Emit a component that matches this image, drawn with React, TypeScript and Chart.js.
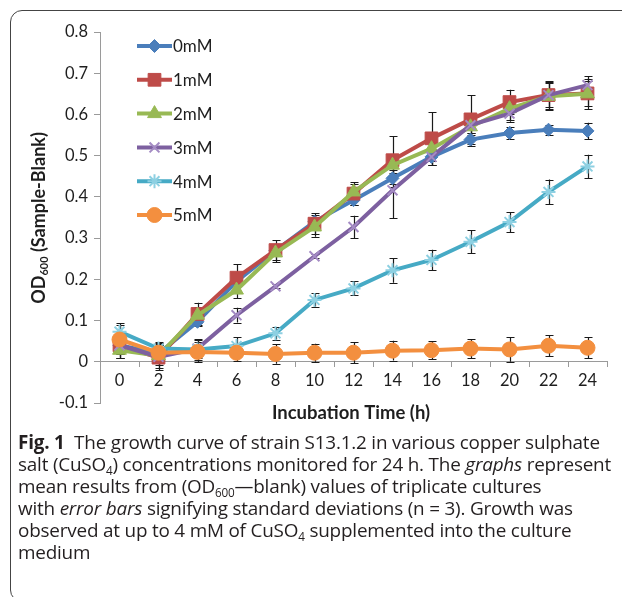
import React, { useEffect, useRef } from 'react';
import { Chart, registerables } from 'chart.js';
import { drawPoint } from 'chart.js/helpers';

Chart.register(...registerables);

const hours = ['0', '2', '4', '6', '8', '10', '12', '14', '16', '18', '20', '22', '24'];

const seriesNames = ['0mM', '1mM', '2mM', '3mM', '4mM', '5mM'];

const od0mM = [0.04, 0.02, 0.097, 0.195, 0.27, 0.34, 0.392, 0.445, 0.497, 0.539, 0.555, 0.563, 0.56];
const od1mM = [0.04, 0.01, 0.116, 0.204, 0.271, 0.335, 0.408, 0.489, 0.542, 0.588, 0.63, 0.647, 0.651];
const od2mM = [0.028, 0.015, 0.113, 0.174, 0.264, 0.327, 0.412, 0.477, 0.517, 0.57, 0.614, 0.644, 0.65];
const od3mM = [0.04, 0.012, 0.032, 0.113, 0.183, 0.256, 0.327, 0.416, 0.497, 0.574, 0.602, 0.647, 0.671];
const od4mM = [0.073, 0.032, 0.03, 0.038, 0.069, 0.15, 0.178, 0.222, 0.247, 0.291, 0.339, 0.412, 0.474];
const od5mM = [0.054, 0.022, 0.024, 0.022, 0.019, 0.022, 0.022, 0.027, 0.028, 0.032, 0.03, 0.039, 0.034];

const sd0mM = [0.02, 0.02, 0.01, 0.01, 0.012, 0.015, 0.012, 0.02, 0.02, 0.015, 0.015, 0.012, 0.02];
const sd1mM = [0.03, 0.03, 0.027, 0.032, 0.024, 0.025, 0.028, 0.058, 0.064, 0.059, 0.03, 0.034, 0.03];
const sd2mM = [0.02, 0.03, 0.02, 0.02, 0.022, 0.024, 0.02, 0.02, 0.03, 0.02, 0.028, 0.034, 0.037];
const sd3mM = [0.03, 0.02, 0.022, 0.018, 0.005, 0.005, 0.027, 0.068, 0.02, 0.02, 0.02, 0.03, 0.022];
const sd4mM = [0.02, 0.015, 0.025, 0.022, 0.015, 0.016, 0.017, 0.03, 0.025, 0.028, 0.024, 0.03, 0.028];
const sd5mM = [0.035, 0.02, 0.025, 0.02, 0.024, 0.022, 0.026, 0.024, 0.022, 0.023, 0.03, 0.026, 0.026];

const lineColors = ['#4A7EBB', '#BE4B48', '#98B954', '#7D60A0', '#46AAC5', '#F38F3F'];
const markerBorders = ['#4A7EBB', '#BE4B48', '#98B954', '#A48BC4', '#8DD0E2', '#F38F3F'];
const markerStyles = ['rectRot', 'rect', 'triangle', 'crossRot', 'star', 'circle'];
const markerRadii = [6.5, 9, 8, 7, 7, 7.5];

const allValues = [od0mM, od1mM, od2mM, od3mM, od4mM, od5mM];
const allErrors = [sd0mM, sd1mM, sd2mM, sd3mM, sd4mM, sd5mM];

const FONT = 'Lato, "Open Sans", sans-serif';

const errorBarPlugin = {
  id: 'errorBars',
  beforeDatasetsDraw(chart: any) {
    const ctx = chart.ctx;
    const y = chart.scales.y;
    ctx.save();
    ctx.strokeStyle = '#1a1a1a';
    ctx.lineWidth = 1.2;
    chart.data.datasets.forEach((ds: any, di: number) => {
      const meta = chart.getDatasetMeta(di);
      const errs = allErrors[di];
      meta.data.forEach((pt: any, i: number) => {
        const v = ds.data[i];
        const e = errs[i];
        const x = Math.round(pt.x) + 0.5;
        const yt = y.getPixelForValue(v + e);
        const yb = y.getPixelForValue(v - e);
        ctx.beginPath();
        ctx.moveTo(x, yt);
        ctx.lineTo(x, yb);
        ctx.moveTo(x - 4, Math.round(yt) + 0.5);
        ctx.lineTo(x + 4, Math.round(yt) + 0.5);
        ctx.moveTo(x - 4, Math.round(yb) + 0.5);
        ctx.lineTo(x + 4, Math.round(yb) + 0.5);
        ctx.stroke();
      });
    });
    ctx.restore();
  },
};

const decorPlugin = {
  id: 'decor',
  afterDraw(chart: any) {
    const ctx = chart.ctx;
    ctx.save();
    // legend
    chart.data.datasets.forEach((ds: any, i: number) => {
      const cy = 46 + i * 33.8;
      ctx.strokeStyle = ds.borderColor;
      ctx.lineWidth = 4;
      ctx.beginPath();
      ctx.moveTo(137, cy);
      ctx.lineTo(172, cy);
      ctx.stroke();
      ctx.fillStyle = ds.pointBackgroundColor;
      ctx.strokeStyle = ds.pointBorderColor;
      ctx.lineWidth = ds.pointBorderWidth;
      drawPoint(ctx, { pointStyle: ds.pointStyle, radius: ds.pointRadius, borderWidth: ds.pointBorderWidth, rotation: 0 }, 154.5, cy);
      ctx.fillStyle = '#1e1e1e';
      ctx.font = `17px ${FONT}`;
      ctx.textBaseline = 'middle';
      ctx.textAlign = 'left';
      ctx.fillText(seriesNames[i], 173, cy + 1);
    });
    // x title
    ctx.fillStyle = '#1e1e1e';
    ctx.font = `bold 18.5px ${FONT}`;
    ctx.textAlign = 'center';
    ctx.textBaseline = 'middle';
    ctx.fillText('Incubation Time (h)', 351, 413);
    // y title with subscript
    ctx.translate(38, 218);
    ctx.rotate(-Math.PI / 2);
    const big = `bold 18px ${FONT}`;
    const small = `bold 11px ${FONT}`;
    ctx.textAlign = 'left';
    ctx.textBaseline = 'alphabetic';
    ctx.font = big;
    const w1 = ctx.measureText('OD').width;
    const w3 = ctx.measureText(' (Sample-Blank)').width;
    ctx.font = small;
    const w2 = ctx.measureText('600').width;
    let x0 = -(w1 + w2 + w3) / 2;
    const base = 7;
    ctx.font = big;
    ctx.fillText('OD', x0, base);
    x0 += w1;
    ctx.font = small;
    ctx.fillText('600', x0, base + 3);
    x0 += w2;
    ctx.font = big;
    ctx.fillText(' (Sample-Blank)', x0, base);
    ctx.restore();
  },
};

function ChartView() {
  const ref = useRef<HTMLCanvasElement | null>(null);
  useEffect(() => {
    if (!ref.current) return;
    const datasets = allValues.map((vals, i) => ({
      label: seriesNames[i],
      data: vals,
      borderColor: lineColors[i],
      backgroundColor: lineColors[i],
      borderWidth: 4,
      pointStyle: markerStyles[i],
      pointRadius: markerRadii[i],
      pointBackgroundColor: lineColors[i],
      pointBorderColor: markerBorders[i],
      pointBorderWidth: i === 3 || i === 4 ? 2 : 1,
      tension: 0,
      fill: false,
      order: 5 - i,
    }));
    const chart = new Chart(ref.current, {
      type: 'line',
      data: { labels: hours, datasets },
      options: {
        animation: false,
        responsive: false,
        devicePixelRatio: 1,
        layout: { padding: { left: 0, right: 15, top: 32, bottom: 27 } },
        plugins: { legend: { display: false }, tooltip: { enabled: false } },
        scales: {
          x: {
            type: 'category',
            offset: true,
            position: { y: 0 } as any,
            grid: { offset: true, drawOnChartArea: false, drawTicks: true, tickLength: 5, color: '#9a9a9a' },
            border: { display: true, color: '#9a9a9a', width: 1 },
            ticks: { color: '#1e1e1e', font: { family: FONT, size: 16.5 }, padding: 4, maxRotation: 0, autoSkip: false },
          },
          y: {
            min: -0.1,
            max: 0.8,
            afterFit: (s: any) => { s.width = 100; },
            grid: { drawOnChartArea: false, drawTicks: true, tickLength: 6, color: '#9a9a9a' },
            border: { display: true, color: '#9a9a9a', width: 1 },
            ticks: {
              stepSize: 0.1,
              color: '#1e1e1e',
              font: { family: FONT, size: 16.5 },
              padding: 6,
              callback: (v: any) => {
                const r = Math.round(Number(v) * 10) / 10;
                return r === 0 ? '0' : r.toFixed(1);
              },
            },
          },
        },
      },
      plugins: [errorBarPlugin, decorPlugin],
    });
    return () => chart.destroy();
  }, []);
  return <canvas ref={ref} width={622} height={430} style={{ position: 'absolute', left: 0, top: 0, width: 622, height: 430 }} />;
}

export default function App() {
  const cap: React.CSSProperties = {
    position: 'absolute',
    left: 18,
    top: 431,
    fontFamily: '"Open Sans", "Noto Sans", sans-serif',
    fontSize: 18.9,
    lineHeight: '22px',
    color: '#231f20',
    whiteSpace: 'nowrap',
    letterSpacing: '-0.2px',
  };
  const sub: React.CSSProperties = { fontSize: '0.62em', verticalAlign: '-0.3em', lineHeight: 0 };
  return (
    <div style={{ position: 'absolute', left: 0, top: 0, width: 622, height: 597, overflow: 'hidden', background: '#fff' }}>
      <div style={{ position: 'absolute', left: 10, top: 10, width: 660, height: 592, border: '1.5px solid #444', borderRadius: 12, boxSizing: 'border-box' }} />
      <ChartView />
      <div style={cap}>
        <b>Fig. 1</b>&nbsp; The growth curve of strain S13.1.2 in various copper sulphate<br />
        salt (CuSO<span style={sub}>4</span>) concentrations monitored for 24 h. The <i>graphs</i> represent<br />
        mean results from (OD<span style={sub}>600</span>—blank) values of triplicate cultures<br />
        with <i>error bars</i> signifying standard deviations (n = 3). Growth was<br />
        observed at up to 4 mM of CuSO<span style={sub}>4</span> supplemented into the culture<br />
        medium
      </div>
    </div>
  );
}
